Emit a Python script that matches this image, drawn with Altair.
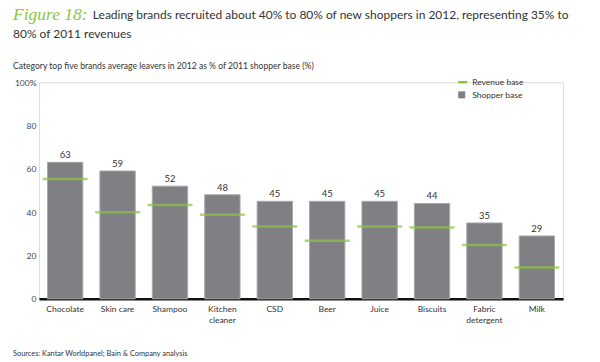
import altair as alt
import pandas as pd

categories = ["Chocolate", "Skin care", "Shampoo", "Kitchen cleaner", "CSD",
              "Beer", "Juice", "Biscuits", "Fabric detergent", "Milk"]
shopper_base = [63, 59, 52, 48, 45, 45, 45, 44, 35, 29]
revenue_base = [55.3, 39.9, 43.3, 38.8, 33.4, 26.8, 33.4, 32.9, 24.8, 14.5]
y_ticks = [0, 20, 40, 60, 80, 100]

FONT = "Lato"
GREEN = "#8cc63f"
GRAY = "#808084"
TXT = "#333333"

df = pd.DataFrame({"category": categories, "shopper": shopper_base, "revenue": revenue_base})

base = alt.Chart(df)
xenc = alt.X("category:N", sort=categories,
             scale=alt.Scale(paddingInner=0.326, paddingOuter=0.163),
             axis=alt.Axis(title=None, labelAngle=0, domainColor="#111111", domainWidth=2.5,
                           ticks=False, labelPadding=6, labelFont=FONT, labelFontSize=8.5,
                           labelColor=TXT, labelLineHeight=11,
                           labelExpr="datum.label == 'Kitchen cleaner' || datum.label == 'Fabric detergent' ? split(datum.label, ' ') : datum.label"))
yscale = alt.Scale(domain=[0, 100])
yaxis = alt.Axis(title=None, values=y_ticks, domain=False, ticks=False, grid=False,
                 labelPadding=3, labelFont=FONT, labelFontSize=8.5, labelColor="#444444",
                 labelExpr="datum.value == 100 ? '100%' : datum.label")

bars = base.mark_bar(color=GRAY, stroke="#a8a8aa", strokeWidth=1).encode(
    x=xenc, y=alt.Y("shopper:Q", scale=yscale, axis=yaxis))
ticks = base.mark_tick(color=GREEN, thickness=2.5, size=45).encode(
    x=alt.X("category:N", sort=categories), y=alt.Y("revenue:Q"))
labels = base.mark_text(dy=-7, font=FONT, fontSize=9.5, color=TXT).encode(
    x=alt.X("category:N", sort=categories), y=alt.Y("shopper:Q"), text="shopper:Q")

def txt(s, x, y, size, color=TXT, **kw):
    return alt.Chart(pd.DataFrame({"t": [s]})).mark_text(
        align="left", baseline="middle", font=kw.pop("font", FONT), fontSize=size,
        color=color, **kw).encode(x=alt.value(x), y=alt.value(y), text="t:N")

fig = txt("Figure 18:", -26, -67, 17.5, GREEN, font="Liberation Serif", fontStyle="italic")
t1 = txt("Leading brands recruited about 40% to 80% of new shoppers in 2012, representing 35% to",
         54, -67, 12)
t2 = txt("80% of 2011 revenues", -26, -48, 12)
sub = txt("Category top five brands average leavers in 2012 as % of 2011 shopper base (%)",
          -26, -16, 8.6)
leg1 = alt.Chart(pd.DataFrame({"a": [0]})).mark_rule(color=GREEN, strokeWidth=2.5).encode(
    x=alt.value(420), x2=alt.value(429), y=alt.value(0))
leg2 = alt.Chart(pd.DataFrame({"a": [0]})).mark_square(color=GRAY, size=49, opacity=1).encode(
    x=alt.value(423.5), y=alt.value(12.7))
legt1 = txt("Revenue base", 434, 0, 8.5)
legt2 = txt("Shopper base", 434, 13, 8.5)
src = txt("Sources: Kantar Worldpanel; Bain & Company analysis", -26, 272, 7.4)

chart = alt.layer(bars, ticks, labels, fig, t1, t2, sub, leg1, leg2, legt1, legt2, src).properties(
    width=525, height=217,
    autosize=alt.AutoSizeParams(type="none"),
    padding={"left": 31, "top": 74, "right": 29, "bottom": 60},
).configure_view(stroke=None).configure(background="white")

chart.save("out.html", embed_options={"renderer": "svg", "actions": False})
